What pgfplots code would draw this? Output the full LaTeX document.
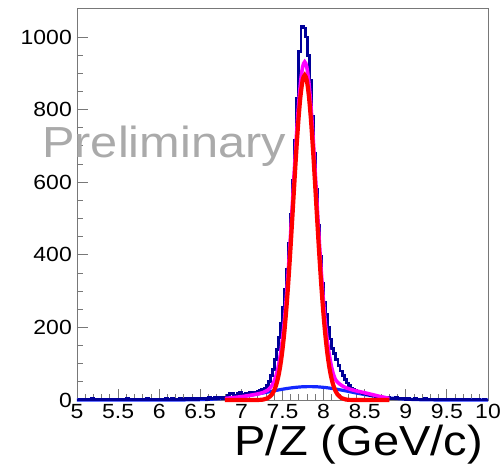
\documentclass[border=0pt]{standalone}
\usepackage{fontspec}
\setmainfont{Liberation Sans}[FakeStretch=1.12]
\usepackage{pgfplots}
\usepackage{pgfplotstable}
\pgfplotsset{compat=1.18}
\definecolor{histblue}{RGB}{0,0,153}
\definecolor{fitblue}{RGB}{20,40,255}
\definecolor{prelgray}{RGB}{170,170,170}
\definecolor{framegray}{RGB}{120,120,120}
\definecolor{fitmag}{RGB}{255,0,255}

\pgfplotstableread{
x y
5.000 0
5.025 1
5.050 0
5.075 2
5.100 1
5.125 0
5.150 1
5.175 3
5.200 0
5.225 1
5.250 2
5.275 0
5.300 1
5.325 0
5.350 2
5.375 1
5.400 0
5.425 1
5.450 0
5.475 2
5.500 1
5.525 1
5.550 0
5.575 2
5.600 3
5.625 1
5.650 0
5.675 2
5.700 1
5.725 0
5.750 1
5.775 2
5.800 1
5.825 0
5.850 3
5.875 1
5.900 2
5.925 0
5.950 1
5.975 2
6.000 1
6.025 2
6.050 0
6.075 3
6.100 1
6.125 2
6.150 4
6.175 1
6.200 2
6.225 0
6.250 3
6.275 2
6.300 1
6.325 4
6.350 2
6.375 3
6.400 1
6.425 5
6.450 2
6.475 3
6.500 4
6.525 3
6.550 5
6.575 2
6.600 6
6.625 4
6.650 5
6.675 7
6.700 4
6.725 6
6.750 8
6.775 5
6.800 8
6.825 12
6.850 18
6.875 17
6.900 10
6.925 13
6.950 19
6.975 20
7.000 14
7.025 15
7.050 18
7.075 16
7.100 20
7.125 19
7.150 22
7.175 21
7.200 24
7.225 27
7.250 28
7.275 33
7.300 41
7.325 50
7.350 68
7.375 85
7.400 112
7.425 140
7.450 172
7.475 212
7.500 255
7.525 305
7.550 360
7.575 430
7.600 510
7.625 605
7.650 715
7.675 830
7.700 960
7.725 1028
7.750 1025
7.775 1000
7.800 950
7.825 880
7.850 780
7.875 680
7.900 580
7.925 480
7.950 395
7.975 320
8.000 270
8.025 235
8.050 200
8.075 168
8.100 142
8.125 128
8.150 112
8.175 96
8.200 80
8.225 68
8.250 56
8.275 47
8.300 39
8.325 33
8.350 29
8.375 27
8.400 25
8.425 22
8.450 20
8.475 19
8.500 17
8.525 15
8.550 14
8.575 12
8.600 11
8.625 10
8.650 9
8.675 8
8.700 8
8.725 7
8.750 6
8.775 6
8.800 5
8.825 5
8.850 4
8.875 6
8.900 4
8.925 3
8.950 4
8.975 3
9.000 2
9.025 3
9.050 1
9.075 2
9.100 3
9.125 2
9.150 1
9.175 2
9.200 1
9.225 3
9.250 2
9.275 1
9.300 0
9.325 2
9.350 1
9.375 1
9.400 2
9.425 0
9.450 1
9.475 1
9.500 0
9.525 2
9.550 1
9.575 0
9.600 1
9.625 1
9.650 0
9.675 1
9.700 0
9.725 1
9.750 1
9.775 0
9.800 0
9.825 1
9.850 0
9.875 1
9.900 0
9.925 0
9.950 1
9.975 0
10.000 0
}\histdata

\begin{document}
\begin{tikzpicture}
\begin{axis}[
  scale only axis, width=411pt, height=392pt,
  xmin=5, xmax=10, ymin=0, ymax=1080,
  clip=false,
  axis line style={framegray, line width=0.9pt},
  xtick={5,5.5,...,10}, ytick={0,200,...,1000},
  minor x tick num=4, minor y tick num=3,
  xtick pos=left, ytick pos=left,
  tick align=inside,
  major tick length=11pt, minor tick length=6pt,
  tick style={framegray, line width=0.9pt},
  /pgf/number format/assume math mode=true,
  /pgf/number format/1000 sep={},
  ticklabel style={font=\fontsize{20.5}{20.5}\selectfont, inner sep=0pt},
  yticklabel style={xshift=-5pt},
  xticklabel style={yshift=-4pt},
  xlabel={P/Z (GeV/c)},
  xlabel style={at={(rel axis cs:0.988,-0.1403)}, anchor=base east,
    font=\fontsize{42}{42}\selectfont, inner sep=0pt},
]
\coordinate (bbA) at (rel axis cs:-0.1873,-0.1633);
\coordinate (bbB) at (rel axis cs:1.0316,1.0204);

\addplot[fitblue, line width=3.2pt, smooth] coordinates {
(5,0) (5.5,0) (6.0,0) (6.23,0.2) (6.43,0.7) (6.63,2.1) (6.83,5.0) (6.93,7.3)
(7.03,10.3) (7.13,13.9) (7.23,18.0) (7.33,22.4) (7.43,26.9) (7.53,30.9)
(7.63,34.2) (7.73,36.3) (7.83,37) (7.93,36.3) (8.03,34.2) (8.13,30.9)
(8.23,26.9) (8.33,22.4) (8.43,18.0) (8.53,13.9) (8.63,10.3) (8.73,7.3)
(8.83,5.0) (9.03,2.1) (9.23,0.7) (9.43,0.2) (9.7,0) (10,0)};

\addplot[histblue, line width=2.9pt, const plot] table[x=x, y=y] {\histdata};

\addplot[fitmag, line width=3.6pt, smooth] coordinates {
(6.8,4.4) (6.9,6.6) (7.0,9.3) (7.1,12.7) (7.2,16.9) (7.27,21.3) (7.32,27.1)
(7.37,39.3) (7.395,50.1) (7.42,65.7) (7.445,88) (7.47,118.6) (7.495,159.6)
(7.52,212.2) (7.545,277.5) (7.57,354.9) (7.595,442.9) (7.62,538.1)
(7.645,635.4) (7.67,728.6) (7.695,811.1) (7.72,875.8) (7.745,917.4)
(7.77,931.7) (7.795,917.8) (7.82,876.7) (7.845,812.4) (7.87,730.3)
(7.895,637.5) (7.92,540.6) (7.945,445.8) (7.97,358.2) (7.995,281)
(8.02,216.1) (8.045,163.7) (8.07,123.1) (8.095,92.7) (8.12,70.6)
(8.145,56) (8.17,49) (8.22,40) (8.27,34) (8.32,30) (8.4,25) (8.5,20)
(8.6,14.5) (8.7,9) (8.8,4.5)};

\addplot[red, line width=4.2pt, smooth] coordinates {
(6.8,0) (7.0,0) (7.2,0.2) (7.27,1.5) (7.32,5.1) (7.37,15.1) (7.395,24.8)
(7.42,39.3) (7.445,60.5) (7.47,90.1) (7.495,130.0) (7.52,181.7) (7.545,246.0)
(7.57,322.6) (7.595,409.8) (7.62,504.2) (7.645,600.8) (7.67,693.4)
(7.695,775.4) (7.72,839.7) (7.745,880.9) (7.77,895) (7.795,880.9)
(7.82,839.7) (7.845,775.4) (7.87,693.4) (7.895,600.8) (7.92,504.2)
(7.945,409.8) (7.97,322.6) (7.995,246.0) (8.02,181.7) (8.045,130.0)
(8.07,90.1) (8.095,60.5) (8.12,39.3) (8.145,24.8) (8.17,15.1) (8.22,5.1)
(8.27,1.5) (8.34,0.2) (8.55,0) (8.8,0)};

\node[anchor=base west, inner sep=0pt, text=prelgray,
  font=\fontsize{43.5}{43.5}\selectfont] at (rel axis cs:-0.085,0.6199) {Preliminary};
\end{axis}
\pgfresetboundingbox
\path[use as bounding box] (bbA) rectangle (bbB);
\end{tikzpicture}
\end{document}
